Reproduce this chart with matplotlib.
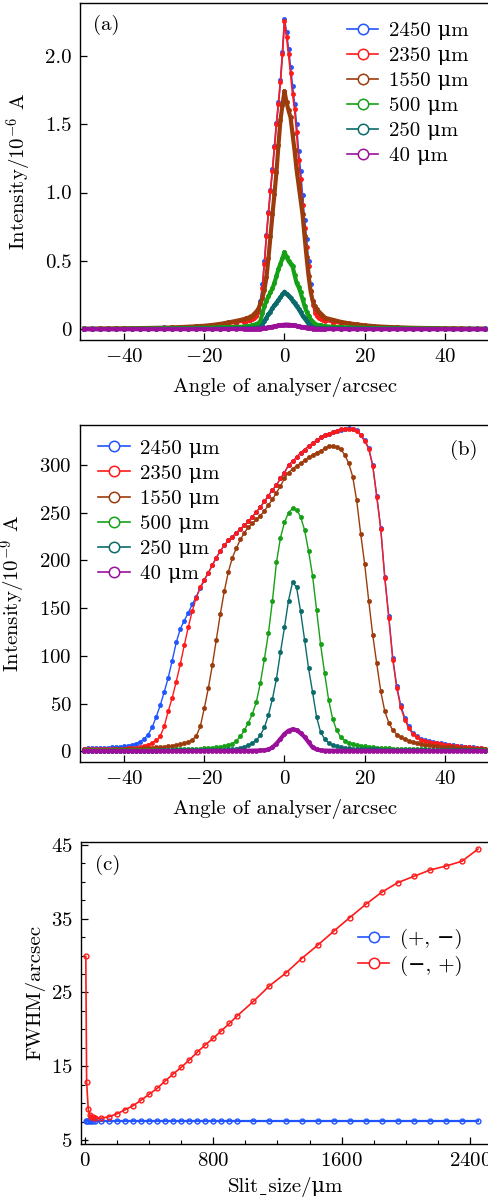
import numpy as np
import matplotlib
matplotlib.use('Agg')
import matplotlib.pyplot as plt
from matplotlib.lines import Line2D

plt.rcParams['font.family'] = ['cmr10', 'DejaVu Serif']
plt.rcParams['mathtext.fontset'] = 'cm'
plt.rcParams['axes.formatter.use_mathtext'] = True
FS = 15
plt.rcParams['font.size'] = FS

labels = ['2450 μm', '2350 μm', '1550 μm', '500 μm', '250 μm', '40 μm']
colors = ['#2155ff', '#ff1a1a', '#9c3c0c', '#16a016', '#0b6b6b', '#9b109b']

# (a) sample positions: coarse tails, fine centre
xa = np.concatenate([np.arange(-50, -11, 2), np.arange(-10, 10.01, 0.5), np.arange(12, 51, 2)])

a_2450 = [0.007, 0.007, 0.008, 0.008, 0.009, 0.009, 0.010, 0.011, 0.012, 0.013, 0.014, 0.016, 0.017, 0.019, 0.021, 0.023, 0.027, 0.032, 0.039, 0.047,
          0.057, 0.061, 0.066, 0.071, 0.078, 0.088, 0.105, 0.14, 0.21, 0.33, 0.50, 0.69, 0.86, 1.02, 1.17, 1.34, 1.51, 1.66, 1.82, 2.03,
          2.27, 2.17, 2.05, 1.92, 1.78, 1.65, 1.50, 1.30, 1.16, 0.98, 0.80, 0.66, 0.50, 0.33, 0.21, 0.14, 0.11, 0.092, 0.08, 0.072, 0.065,
          0.05, 0.042, 0.035, 0.029, 0.025, 0.021, 0.018, 0.016, 0.014, 0.013, 0.012, 0.011, 0.010, 0.009, 0.009, 0.008, 0.008, 0.007, 0.007, 0.007]
a_2350 = [0.006, 0.006, 0.007, 0.007, 0.008, 0.008, 0.009, 0.010, 0.011, 0.012, 0.013, 0.015, 0.016, 0.018, 0.020, 0.022, 0.026, 0.031, 0.038, 0.046,
          0.056, 0.060, 0.065, 0.070, 0.076, 0.085, 0.10, 0.13, 0.19, 0.30, 0.48, 0.68, 0.85, 1.01, 1.16, 1.33, 1.50, 1.65, 1.81, 2.01,
          2.25, 2.14, 2.01, 1.87, 1.72, 1.61, 1.44, 1.24, 1.10, 0.91, 0.74, 0.60, 0.46, 0.28, 0.18, 0.12, 0.10, 0.085, 0.075, 0.068, 0.062,
          0.048, 0.040, 0.033, 0.027, 0.023, 0.020, 0.017, 0.015, 0.013, 0.012, 0.011, 0.010, 0.009, 0.008, 0.008, 0.007, 0.007, 0.006, 0.006, 0.006]
a_1550 = [0.005, 0.005, 0.006, 0.006, 0.007, 0.007, 0.008, 0.009, 0.010, 0.011, 0.012, 0.014, 0.016, 0.019, 0.022, 0.026, 0.032, 0.040, 0.050, 0.062,
          0.075, 0.08, 0.085, 0.093, 0.10, 0.115, 0.13, 0.15, 0.19, 0.23, 0.29, 0.38, 0.52, 0.68, 0.84, 0.99, 1.15, 1.35, 1.53, 1.64,
          1.74, 1.66, 1.60, 1.55, 1.43, 1.31, 1.17, 1.06, 0.95, 0.84, 0.68, 0.53, 0.39, 0.28, 0.21, 0.17, 0.145, 0.125, 0.11, 0.095, 0.085,
          0.07, 0.055, 0.044, 0.036, 0.029, 0.024, 0.020, 0.017, 0.015, 0.013, 0.011, 0.010, 0.009, 0.008, 0.007, 0.007, 0.006, 0.006, 0.005, 0.005]
a_500 = [0.003, 0.003, 0.003, 0.004, 0.004, 0.004, 0.005, 0.005, 0.006, 0.006, 0.007, 0.007, 0.008, 0.009, 0.010, 0.011, 0.012, 0.014, 0.016, 0.018,
         0.02, 0.022, 0.024, 0.027, 0.03, 0.034, 0.038, 0.044, 0.06, 0.12, 0.17, 0.21, 0.24, 0.27, 0.30, 0.34, 0.39, 0.44, 0.48, 0.52,
         0.565, 0.53, 0.50, 0.48, 0.46, 0.40, 0.34, 0.31, 0.27, 0.22, 0.17, 0.13, 0.10, 0.07, 0.05, 0.04, 0.035, 0.03, 0.028, 0.025, 0.022,
         0.019, 0.016, 0.014, 0.012, 0.011, 0.010, 0.009, 0.008, 0.007, 0.007, 0.006, 0.006, 0.005, 0.005, 0.004, 0.004, 0.004, 0.003, 0.003, 0.003]
a_250 = [0.002, 0.002, 0.002, 0.002, 0.002, 0.002, 0.003, 0.003, 0.003, 0.003, 0.003, 0.004, 0.004, 0.004, 0.005, 0.005, 0.005, 0.006, 0.006, 0.007,
         0.008, 0.008, 0.009, 0.009, 0.010, 0.011, 0.012, 0.013, 0.015, 0.035, 0.06, 0.085, 0.11, 0.13, 0.155, 0.175, 0.195, 0.215, 0.235, 0.255,
         0.275, 0.26, 0.245, 0.23, 0.21, 0.19, 0.17, 0.15, 0.125, 0.10, 0.08, 0.06, 0.04, 0.025, 0.015, 0.012, 0.010, 0.009, 0.008, 0.008, 0.007,
         0.007, 0.006, 0.006, 0.005, 0.005, 0.005, 0.004, 0.004, 0.004, 0.003, 0.003, 0.003, 0.003, 0.003, 0.002, 0.002, 0.002, 0.002, 0.002, 0.002]
a_40 = [0.001, 0.001, 0.001, 0.001, 0.001, 0.001, 0.001, 0.001, 0.001, 0.001, 0.001, 0.001, 0.001, 0.001, 0.001, 0.001, 0.001, 0.001, 0.002, 0.002,
        0.002, 0.002, 0.002, 0.002, 0.003, 0.003, 0.004, 0.005, 0.006, 0.008, 0.010, 0.012, 0.014, 0.017, 0.019, 0.022, 0.025, 0.028, 0.030, 0.032,
        0.034, 0.035, 0.034, 0.032, 0.030, 0.028, 0.025, 0.022, 0.019, 0.017, 0.014, 0.012, 0.010, 0.008, 0.006, 0.005, 0.004, 0.003, 0.003, 0.002, 0.002,
        0.002, 0.002, 0.001, 0.001, 0.001, 0.001, 0.001, 0.001, 0.001, 0.001, 0.001, 0.001, 0.001, 0.001, 0.001, 0.001, 0.001, 0.001, 0.001, 0.001]

# (b) sampled every 1 arcsec from -50 to 50
xb = np.arange(-50, 51)
b_2450 = [2.8, 2.9, 3.0, 3.1, 3.3, 3.5, 3.7, 4.0, 4.3, 4.7,
          5.2, 5.9, 6.8, 8.0, 10.0, 13.0, 17.5, 25, 36, 48,
          62, 77, 95, 114, 128, 137, 145, 154, 162, 171,
          179, 187, 195, 203, 210, 216, 221, 225, 229, 233,
          237, 241, 246, 251, 256, 262, 268, 274, 279, 286,
          292, 300, 304, 308, 313, 316, 320, 323, 326, 329,
          331, 333, 334.5, 336, 337, 338, 338.5, 338, 336.5, 332,
          326, 318, 300, 268, 234, 183, 142, 98, 68, 48,
          35, 26, 19, 15.5, 13, 11.5, 10.5, 9.8, 9.0, 8.2,
          7.5, 6.8, 6.2, 5.7, 5.2, 4.8, 4.5, 4.0, 3.6, 3.2, 2.8]
b_2350 = [1.8, 1.9, 2.0, 2.1, 2.2, 2.3, 2.4, 2.5, 2.6, 2.7,
          2.8, 2.9, 3.1, 3.6, 4.3, 5.3, 7.0, 9.0, 11.5, 15.5,
          26, 42, 56, 73, 91, 111, 130, 147, 161, 172,
          180, 187, 195, 203, 210, 216, 221, 225, 229, 233,
          237, 241, 246, 251, 256, 262, 268, 274, 279, 286,
          292, 300, 304, 308, 313, 316, 320, 323, 326, 329,
          331, 333, 334.5, 336, 337.5, 338, 338, 337.5, 336, 331,
          325, 317, 299, 267, 233, 182, 140, 96, 66, 46,
          33, 24, 18, 14.5, 12.2, 10.8, 9.8, 9.1, 8.4, 7.7,
          7.0, 6.4, 5.8, 5.3, 4.9, 4.5, 4.1, 3.7, 3.3, 2.9, 2.5]
b_1550 = [1.0, 1.1, 1.2, 1.3, 1.4, 1.5, 1.6, 1.7, 1.8, 1.9,
          2.0, 2.2, 2.4, 2.6, 2.8, 3.1, 3.4, 3.7, 4.0, 4.4,
          4.8, 5.3, 5.8, 6.4, 7.2, 8.2, 9.5, 12, 16, 26,
          45, 66, 90, 117, 144, 168, 188, 203, 213, 222,
          229, 235, 239, 243, 247, 252, 258, 264, 271, 278,
          286, 292, 296, 299, 302, 305, 308, 310.5, 313, 315,
          317.5, 319.5, 320, 319, 316.5, 311, 302, 288, 263, 228,
          196, 158, 122, 92, 63, 42, 30, 22, 17.5, 14.5,
          12.5, 11, 9.8, 8.7, 7.8, 7.0, 6.3, 5.8, 5.3, 4.9,
          4.5, 4.2, 3.9, 3.6, 3.3, 3.0, 2.8, 2.5, 2.3, 2.0, 1.8]
b_500 = [0.8, 0.8, 0.85, 0.85, 0.9, 0.9, 0.95, 0.95, 1.0, 1.0,
         1.05, 1.1, 1.1, 1.15, 1.2, 1.25, 1.3, 1.35, 1.4, 1.45,
         1.5, 1.6, 1.7, 1.8, 1.9, 2.0, 2.1, 2.3, 2.5, 2.7,
         3.0, 3.2, 3.5, 3.9, 4.5, 5.2, 6.3, 8.0, 11, 15.5,
         22, 30, 39, 52, 72, 97, 124, 158, 198, 224,
         240, 250, 254.5, 253, 246, 232, 210, 184, 148, 112,
         82, 54, 34, 22, 15, 11, 9, 7.5, 6.5, 5.5,
         5.0, 4.5, 4.1, 3.8, 3.5, 3.2, 3.0, 2.8, 2.6, 2.4,
         2.3, 2.2, 2.1, 2.0, 1.9, 1.8, 1.7, 1.6, 1.5, 1.45,
         1.4, 1.35, 1.3, 1.25, 1.2, 1.15, 1.1, 1.05, 1.0, 0.95, 0.9]
b_250 = [0.5, 0.5, 0.5, 0.5, 0.5, 0.55, 0.55, 0.55, 0.55, 0.6,
         0.6, 0.6, 0.6, 0.65, 0.65, 0.65, 0.7, 0.7, 0.7, 0.75,
         0.75, 0.8, 0.8, 0.85, 0.85, 0.9, 0.9, 0.95, 0.95, 1.0,
         1.0, 1.0, 1.05, 1.1, 1.2, 1.5, 1.8, 2.2, 2.8, 3.6,
         4.8, 6.3, 8.5, 11.5, 17, 25, 38, 55, 76, 104,
         130, 158, 177, 172, 147, 117, 87, 62, 36, 20,
         13, 8.5, 6.3, 5.0, 4.0, 3.4, 3.0, 2.8, 2.5, 2.3,
         2.1, 2.0, 1.9, 1.8, 1.7, 1.6, 1.55, 1.5, 1.45, 1.4,
         1.35, 1.3, 1.25, 1.2, 1.15, 1.1, 1.05, 1.0, 1.0, 0.95,
         0.95, 0.9, 0.9, 0.85, 0.85, 0.8, 0.8, 0.8, 0.75, 0.75, 0.7]
b_40 = [0.2, 0.2, 0.2, 0.2, 0.2, 0.2, 0.2, 0.2, 0.2, 0.2,
        0.2, 0.2, 0.2, 0.2, 0.2, 0.2, 0.2, 0.2, 0.2, 0.2,
        0.2, 0.2, 0.25, 0.25, 0.25, 0.25, 0.3, 0.3, 0.3, 0.3,
        0.3, 0.35, 0.35, 0.35, 0.4, 0.4, 0.4, 0.45, 0.45, 0.5,
        0.5, 0.55, 0.6, 0.7, 0.8, 1.0, 1.8, 4.0, 8.0, 13,
        18, 21.5, 23, 22, 19, 15, 9.5, 4.0, 1.8, 0.9,
        0.7, 0.6, 0.55, 0.5, 0.5, 0.45, 0.45, 0.4, 0.4, 0.4,
        0.35, 0.35, 0.35, 0.35, 0.35, 0.35, 0.35, 0.35, 0.35, 0.35,
        0.3, 0.3, 0.3, 0.3, 0.3, 0.3, 0.3, 0.3, 0.3, 0.3,
        0.25, 0.25, 0.25, 0.25, 0.25, 0.25, 0.25, 0.25, 0.25, 0.25, 0.25]

# (c) FWHM vs slit size
slit = [5, 10, 20, 30, 40, 50, 60, 100, 150, 200, 250, 300, 350, 400, 450, 500, 550, 600, 650, 700,
        750, 800, 850, 900, 950, 1050, 1150, 1250, 1350, 1450, 1550, 1650, 1750, 1850, 1950, 2050, 2150, 2250, 2350, 2450]
fwhm_pm = [7.6, 7.6, 7.6, 7.6, 7.6, 7.6, 7.6, 7.6, 7.6, 7.6, 7.6, 7.6, 7.6, 7.6, 7.6, 7.6, 7.6, 7.6, 7.6, 7.6,
           7.6, 7.6, 7.6, 7.6, 7.6, 7.6, 7.6, 7.6, 7.6, 7.6, 7.6, 7.6, 7.6, 7.6, 7.6, 7.6, 7.6, 7.6, 7.6, 7.6]
fwhm_mp = [29.9, 12.9, 9.2, 8.4, 8.15, 8.05, 8.0, 7.95, 8.15, 8.55, 9.1, 9.65, 10.4, 11.2, 12.0, 13.0, 13.95, 14.85, 15.85, 16.9,
           17.9, 18.8, 19.8, 20.8, 21.85, 23.8, 25.9, 27.6, 29.6, 31.4, 33.3, 35.15, 36.95, 38.6, 39.9, 40.75, 41.6, 42.15, 42.8, 44.45]

W, H = 489, 1202
fig = plt.figure(figsize=(W / 100, H / 100), dpi=100)


def box(left, top, right, bottom):
    return [left / W, 1 - bottom / H, (right - left) / W, (bottom - top) / H]


def style(ax):
    ax.tick_params(direction='in', length=5, width=0.9, pad=6, labelsize=FS)
    ax.tick_params(which='minor', direction='in', length=3, width=0.8)
    for s in ax.spines.values():
        s.set_linewidth(1.0)


def add_legend(ax, cols, labs, anchor):
    hs = [Line2D([], [], color=c, lw=1.2, marker='o', ms=7.5, mfc='white', mec=c, mew=1.1, label=l)
          for c, l in zip(cols, labs)]
    ax.legend(handles=hs, loc='upper left', bbox_to_anchor=anchor, frameon=False, fontsize=FS,
              handlelength=1.5, handletextpad=0.5, labelspacing=0.31, borderpad=0, borderaxespad=0)


# ---- (a)
ax1 = fig.add_axes(box(80, 3, 491, 340))
series_a = [a_2450, a_2350, a_1550, a_500, a_250, a_40]
for i, (ys, c) in enumerate(zip(series_a, colors)):
    lw = 1.2 if i < 2 else 3.0
    ax1.plot(xa, ys, color=c, lw=lw, marker='o', ms=3, mfc=c, mec=c, mew=0.5)
ax1.set_xlim(-51, 51.5)
ax1.set_ylim(-0.078, 2.385)
ax1.set_xticks([-40, -20, 0, 20, 40])
ax1.set_yticks([0, 0.5, 1.0, 1.5, 2.0])
ax1.set_yticklabels(['0', '0.5', '1.0', '1.5', '2.0'])
ax1.set_xlabel('Angle of analyser/arcsec', fontsize=FS, labelpad=8)
ax1.set_ylabel(r'Intensity/$10^{-6}$ A', fontsize=FS, labelpad=8)
ax1.text(0.032, 0.965, '(a)', transform=ax1.transAxes, va='top', fontsize=FS)
add_legend(ax1, colors, labels, (0.65, 0.945))
style(ax1)

# ---- (b)
ax2 = fig.add_axes(box(80, 425, 491, 761.7))
series_b = [b_2450, b_2350, b_1550, b_500, b_250, b_40]
for i, (ys, c) in enumerate(zip(series_b, colors)):
    lw = 3.0 if i == 5 else 1.0
    ax2.plot(xb, ys, color=c, lw=lw, marker='o', ms=3, mfc=c, mec=c, mew=0.5)
ax2.set_xlim(-51, 51.5)
ax2.set_ylim(-11, 342)
ax2.set_xticks([-40, -20, 0, 20, 40])
ax2.set_yticks([0, 50, 100, 150, 200, 250, 300])
ax2.set_xlabel('Angle of analyser/arcsec', fontsize=FS, labelpad=8)
ax2.set_ylabel(r'Intensity/$10^{-9}$ A', fontsize=FS, labelpad=8)
ax2.text(0.9, 0.955, '(b)', transform=ax2.transAxes, va='top', fontsize=FS)
add_legend(ax2, colors, labels, (0.045, 0.958))
style(ax2)

# ---- (c)
ax3 = fig.add_axes(box(81, 841.7, 491, 1144))
ax3.plot(slit, fwhm_pm, color=colors[0], lw=1.6, marker='o', ms=3.5, mfc='none', mec=colors[0], mew=1.0)
ax3.plot(slit, fwhm_mp, color=colors[1], lw=1.2, marker='o', ms=3.5, mfc='none', mec=colors[1], mew=1.0)
ax3.set_xlim(-25, 2531)
ax3.set_ylim(4.45, 45.45)
ax3.set_xticks([0, 800, 1600, 2400])
ax3.set_xticks(np.arange(0, 2501, 200), minor=True)
ax3.set_yticks([5, 15, 25, 35, 45])
ax3.set_yticks(np.arange(5, 45.1, 2.5), minor=True)
# cmr10 has no true underscore glyph, so a low line from the fallback font is used
ax3.set_xlabel('Slit\u02cdsize/μm', fontsize=FS, labelpad=5)
ax3.set_ylabel('FWHM/arcsec', fontsize=FS, labelpad=4)
ax3.text(0.034, 0.955, '(c)', transform=ax3.transAxes, va='top', fontsize=FS)
add_legend(ax3, colors[:2], ['(+, −)', '(−, +)'], (0.676, 0.711))
style(ax3)

fig.savefig('out.png', dpi=100)
